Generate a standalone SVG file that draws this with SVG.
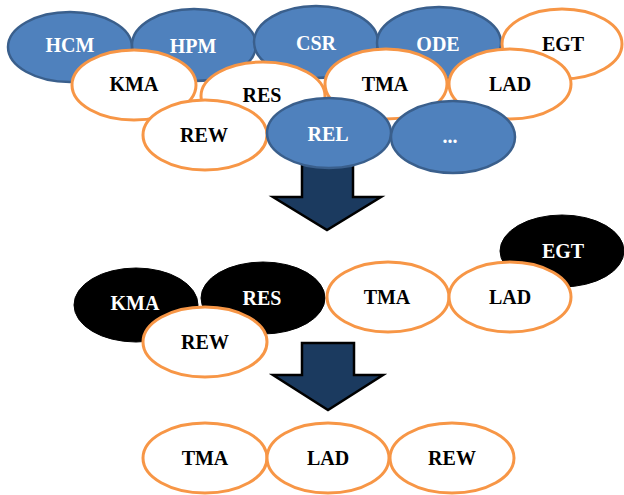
<svg xmlns="http://www.w3.org/2000/svg" width="624" height="495" viewBox="0 0 624 495">
<style>
.b{fill:#4F81BD;stroke:#3A5F8C;stroke-width:2.5}
.w{fill:#fff;stroke:#F79646;stroke-width:3}
.k{fill:#000;stroke:#000;stroke-width:1}
text{font-family:"Liberation Serif","Times New Roman",serif;font-weight:bold;font-size:20px;text-anchor:middle;dominant-baseline:central}
.tw{fill:#fff}
.tb{fill:#000}
.arr{fill:#1B3A5F;stroke:#000;stroke-width:2.5;stroke-linejoin:miter}
</style>
<rect width="624" height="495" fill="#fff"/>
<g id="connectors">
<path class="arr" d="M302,164 H353 V197 H381 L327,230 L273,197 H302 Z"/>
<path class="arr" d="M302,343 H354 V375 H383 L328,410 L273,375 H302 Z"/>
</g>
<g id="top-HCM"><ellipse class="b" cx="70" cy="47" rx="62" ry="35"/><text class="tw" x="70" y="45">HCM</text></g>
<g id="top-HPM"><ellipse class="b" cx="194" cy="45" rx="62" ry="36"/><text class="tw" x="193" y="46">HPM</text></g>
<g id="top-CSR"><ellipse class="b" cx="316" cy="42" rx="62" ry="36"/><text class="tw" x="316" y="43">CSR</text></g>
<g id="top-ODE"><ellipse class="b" cx="439" cy="43" rx="62" ry="36"/><text class="tw" x="438" y="44">ODE</text></g>
<g id="top-EGT"><ellipse class="w" cx="562" cy="44" rx="60" ry="35"/><text class="tb" x="563" y="44">EGT</text></g>
<g id="top-KMA"><ellipse class="w" cx="134" cy="85" rx="62" ry="35"/><text class="tb" x="134" y="84">KMA</text></g>
<g id="top-RES"><ellipse class="w" cx="263" cy="96" rx="62" ry="34"/><text class="tb" x="262" y="95">RES</text></g>
<g id="top-TMA"><ellipse class="w" cx="386" cy="84" rx="61" ry="35"/><text class="tb" x="385" y="84">TMA</text></g>
<g id="top-LAD"><ellipse class="w" cx="510" cy="84" rx="61" ry="35"/><text class="tb" x="510" y="84">LAD</text></g>
<g id="top-REW"><ellipse class="w" cx="205" cy="135" rx="62" ry="35"/><text class="tb" x="204" y="135">REW</text></g>
<g id="top-REL"><ellipse class="b" cx="329" cy="133" rx="62" ry="35"/><text class="tw" x="328" y="134">REL</text></g>
<g id="top-more"><ellipse class="b" cx="453" cy="137" rx="62" ry="36"/><text class="tw" x="450" y="136">...</text></g>
<g id="mid-EGT"><ellipse class="k" cx="562" cy="251" rx="62" ry="36"/><text class="tw" x="563" y="251">EGT</text></g>
<g id="mid-KMA"><ellipse class="k" cx="136" cy="305" rx="62" ry="37"/><text class="tw" x="135" y="303">KMA</text></g>
<g id="mid-RES"><ellipse class="k" cx="263" cy="298" rx="62" ry="36"/><text class="tw" x="262" y="298">RES</text></g>
<g id="mid-TMA"><ellipse class="w" cx="388" cy="297" rx="61" ry="35"/><text class="tb" x="387" y="297">TMA</text></g>
<g id="mid-LAD"><ellipse class="w" cx="510" cy="297" rx="61" ry="35"/><text class="tb" x="510" y="297">LAD</text></g>
<g id="mid-REW"><ellipse class="w" cx="205" cy="342" rx="62" ry="35"/><text class="tb" x="205" y="342">REW</text></g>
<g id="bot-TMA"><ellipse class="w" cx="205" cy="458" rx="62" ry="35"/><text class="tb" x="205" y="458">TMA</text></g>
<g id="bot-LAD"><ellipse class="w" cx="328" cy="458" rx="61" ry="35"/><text class="tb" x="328" y="458">LAD</text></g>
<g id="bot-REW"><ellipse class="w" cx="452" cy="458" rx="62" ry="35"/><text class="tb" x="452" y="458">REW</text></g>
</svg>
